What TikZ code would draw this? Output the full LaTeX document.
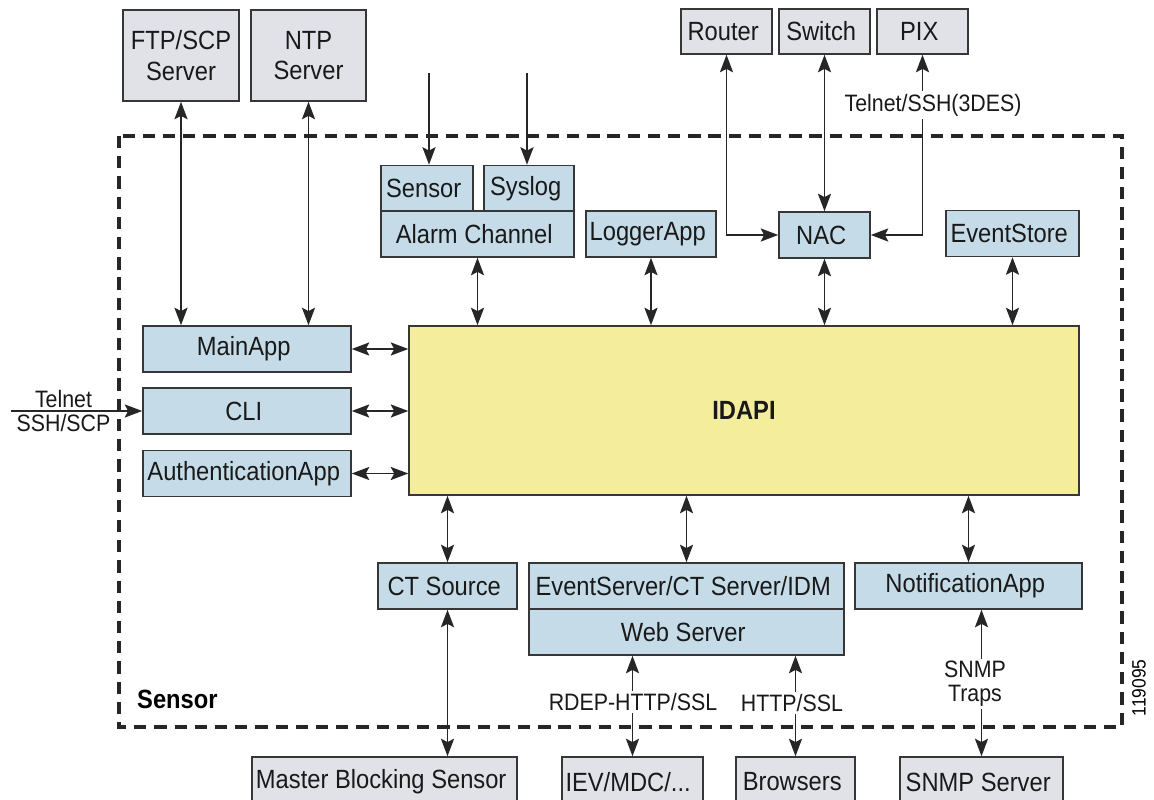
\documentclass[tikz,border=0pt]{standalone}
\usepackage{fontspec}
\setmainfont{Liberation Sans}[FakeStretch=0.9]
\usetikzlibrary{
	arrows.meta,
	calc,
	positioning,
}
\definecolor{appblue}{RGB}{197,220,232}
\definecolor{hostgray}{RGB}{225,226,231}
\definecolor{idapiyellow}{RGB}{244,238,156}
\definecolor{boxline}{RGB}{55,55,55}
\tikzset{app node/.style={
	draw=boxline,
	fill=appblue,
	line width=0.9pt,
	inner sep=0mm,
	align=center,
	minimum height=0.92cm,
	font=\fontsize{15}{17.5}\selectfont,
	text=black!90,
}}
\tikzset{host node/.style={
	app node,
	fill=hostgray,
}}
\tikzset{proto label/.style={
	inner sep=1.5pt,
	align=center,
	font=\fontsize{13.5}{13.7}\selectfont,
	text=black!90,
}}
\tikzset{both link/.style={
	{Stealth[length=10pt,width=7.5pt,inset=2pt]}-{Stealth[length=10pt,width=7.5pt,inset=2pt]},
	line width=0.9pt,
	black!85,
}}
\tikzset{in link/.style={
	-{Stealth[length=10pt,width=7.5pt,inset=2pt]},
	line width=0.9pt,
	black!85,
}}
\tikzset{sensor frame/.style={
	line width=2pt,
	dash pattern=on 7pt off 4.5pt,
	black!85,
}}

\begin{document}
\begin{tikzpicture}[x=0.02cm, y=-0.02cm]
\useasboundingbox (0,0) rectangle (1154,800);

\draw[sensor frame] (119,136) rectangle (1122,727);
\node[anchor=west, font=\bfseries\fontsize{15}{17.5}\selectfont](sensorlbl) at(131,699) {Sensor};

\node[app node, fill=idapiyellow, minimum width=13.4cm, minimum height=3.38cm,
	font=\bfseries\fontsize{15}{17.5}\selectfont](idapi) at(744,410.5) {IDAPI};

% outside hosts
\node[host node, minimum width=2.32cm, minimum height=1.82cm](ftp) at(181,55.5) {FTP/SCP\\Server};
\node[host node, minimum width=2.30cm, minimum height=1.82cm](ntp) at(308.5,55.5) {NTP\\Server};
\foreach \nm/\x/\y/\w/\h/\txt in {
	router/726.5/31.5/1.82/0.9/Router
	,switch/824.5/31.5/1.82/0.9/Switch
	,pix/922.5/31.5/1.82/0.9/PIX
	,mbs/384.5/782/5.30/1.0/Master Blocking Sensor
	,iev/632.5/782/2.82/1.0/{IEV/MDC/...}
	,browsers/795.5/782/2.38/1.0/Browsers
	,snmpsrv/981.5/782/3.26/1.0/SNMP Server
}{
	\node[host node, minimum width=\w cm, minimum height=\h cm](\nm) at(\x,\y) {\txt};
}

% sensor apps
\foreach \nm/\x/\y/\w/\txt in {
	sensorin/427/188.5/1.84/Sensor
	,syslog/529/188.5/1.80/Syslog
	,alarm/477.5/234/3.86/Alarm Channel
	,logger/651/234/2.60/LoggerApp
	,nac/824.5/235/1.82/NAC
	,evstore/1012.5/233.5/2.66/EventStore
	,mainapp/247/349/4.16/MainApp
	,cli/247/411/4.16/CLI
	,authapp/247/473.5/4.16/AuthenticationApp
	,ctsource/447.5/586/2.78/CT Source
	,evserver/686.5/586/6.30/{EventServer/CT Server/IDM}
	,websrv/686.5/632/6.30/Web Server
	,notifapp/968.5/586/4.54/NotificationApp
}{
	\node[app node, minimum width=\w cm](\nm) at(\x,\y) {\txt};
}

\foreach \a in {mainapp, cli, authapp}{
	\draw[both link] (\a.east) -- (\a.east -| idapi.west);
}
\foreach \a in {alarm, logger, nac, evstore}{
	\draw[both link] (\a.south) -- (\a.south |- idapi.north);
}
\foreach \a in {ctsource, evserver, notifapp}{
	\draw[both link] (\a.north |- idapi.south) -- (\a.north);
}

\draw[both link] (ftp.south) -- (ftp.south |- mainapp.north);
\draw[both link] (ntp.south) -- (ntp.south |- mainapp.north);
\draw[both link] (router.south) |- (nac.west);
\draw[both link] (switch.south) -- (nac.north);
\draw[both link] (pix.south) |- (nac.east);
\draw[both link] (ctsource.south) -- (ctsource.south |- mbs.north);
\draw[both link] (iev.north |- websrv.south) -- (iev.north);
\draw[both link] (browsers.north |- websrv.south) -- (browsers.north);
\draw[both link] (snmpsrv.north |- notifapp.south) -- (snmpsrv.north);

\coordinate (sensorfeed) at (429,73);
\coordinate (syslogfeed) at (527,73);
\coordinate (telnetfeed) at (11,411);
\draw[in link] (sensorfeed) -- (sensorfeed |- sensorin.north);
\draw[in link] (syslogfeed) -- (syslogfeed |- syslog.north);
\draw[in link] (telnetfeed) -- (telnetfeed -| cli.west)
	node[proto label, above, pos=0.4](telnetlbl) {Telnet}
	node[proto label, below, pos=0.4](sshlbl) {SSH/SCP};

\node[proto label, fill=white](pixlbl) at(933,105) {Telnet/SSH(3DES)};
\node[proto label, fill=white](rdeplbl) at(633,702) {RDEP-HTTP/SSL};
\node[proto label, fill=white](httplbl) at(792,703) {HTTP/SSL};
\node[proto label, fill=white](trapslbl) at(975,684) {SNMP\\Traps};

\node[rotate=90, font=\fontsize{11}{12}\selectfont](figid) at(1139,688) {119095};
\end{tikzpicture}
\end{document}
